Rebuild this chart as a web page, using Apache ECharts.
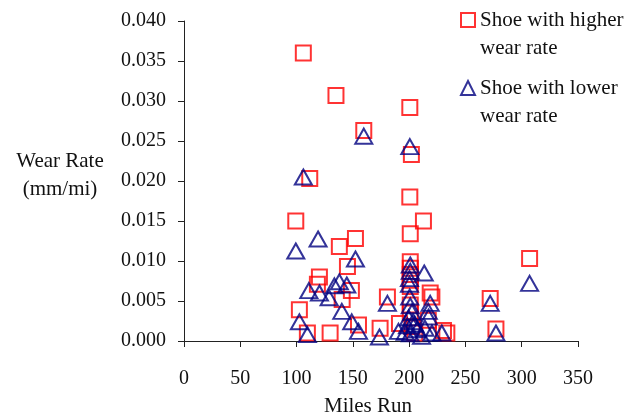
<!DOCTYPE html>
<html>
<head>
<meta charset="utf-8">
<script src="https://cdn.jsdelivr.net/npm/echarts@6/dist/echarts.min.js"></script>
<style>
    html, body { margin: 0; padding: 0; background: #fff; }
    #chart-wear { width: 634px; height: 419px; }
</style>
</head>
<body>
<div id="chart-wear"></div>
<script>
// miles run / wear rate (mm/mi)
var higherMiles = [106, 135, 200.6, 159.7, 202, 111.7, 200.6, 99.3, 212.7, 201, 152.3, 138, 307, 201,
    145.2, 120.3, 118.5, 148.7, 140.5, 102.5, 155, 109.6, 129.8, 180.7, 174.2, 191.4, 272, 277.1, 230.5,
    233.5, 201, 201, 201, 201, 218.7, 220.2, 201, 201, 202.5, 205, 217];
var higherRate = [0.0360, 0.0307, 0.0292, 0.0263, 0.0233, 0.0203, 0.0180, 0.0150, 0.0150, 0.0134, 0.0128, 0.0118, 0.0103, 0.0099,
    0.0093, 0.0080, 0.0071, 0.0063, 0.0052, 0.0039, 0.0020, 0.0010, 0.0010, 0.0055, 0.0016, 0.0022, 0.0053, 0.0015, 0.0013,
    0.0010, 0.0091, 0.0083, 0.0076, 0.0068, 0.0060, 0.0055, 0.0045, 0.0035, 0.0018, 0.0010, 0.0026];

var lowerMiles = [159.7, 200.6, 106, 119.1, 99.3, 152.3, 307, 201, 201, 213.4, 200.3, 200.3, 138, 144.6,
    133.6, 110.9, 120.3, 128.9, 140.2, 102.5, 149, 155, 109.6, 180.7, 218.7, 173.6, 190.5, 229, 217.2, 220.2,
    272, 277.1, 201, 202.5, 199.5, 203.5, 198.5, 207, 201, 211, 196.5, 214, 217, 200.5, 205];
var lowerRate = [0.0256, 0.0243, 0.0205, 0.01275, 0.01125, 0.01025, 0.0072, 0.0095, 0.0087, 0.0085, 0.0078, 0.0071, 0.0074, 0.0070,
    0.0069, 0.0063, 0.0060, 0.0054, 0.0037, 0.0024, 0.0024, 0.0012, 0.0008, 0.0047, 0.0047, 0.0005, 0.0012, 0.0010, 0.0030, 0.0010,
    0.0047, 0.0010, 0.0044, 0.0036, 0.0029, 0.0024, 0.0019, 0.0014, 0.0009, 0.0006, 0.0011, 0.0016, 0.0037, 0.0055, 0.0021];

var seriesNames = ['Shoe with higher\nwear rate', 'Shoe with lower\nwear rate'];

function pairs(xs, ys) {
    var out = [];
    for (var i = 0; i < xs.length; i++) {
        out.push([xs[i], ys[i]]);
    }
    return out;
}

var chartWear = echarts.init(document.getElementById('chart-wear'));
var font = 'Liberation Serif';
var axisColor = '#222';

var option = {
    animation: false,
    backgroundColor: '#fff',
    textStyle: { fontFamily: font },
    grid: {
        left: 184,
        right: 56,
        top: 21,
        bottom: 78,
        containLabel: false,
        outerBoundsMode: 'none'
    },
    legend: {
        orient: 'vertical',
        left: 460,
        top: -22,
        padding: 0,
        itemGap: -16,
        itemWidth: 14,
        itemHeight: 14,
        // blank first line keeps the icon level with the first text line
        formatter: function (name) {
            return '\u00a0\n' + name;
        },
        textStyle: {
            fontFamily: font,
            fontSize: 21,
            color: '#111',
            lineHeight: 28
        },
        data: seriesNames
    },
    xAxis: {
        type: 'value',
        min: 0,
        max: 350,
        interval: 50,
        name: 'Miles Run',
        nameLocation: 'middle',
        nameGap: 55,
        nameTextStyle: { fontFamily: font, fontSize: 21, color: '#111', padding: [0, 26, 0, 0] },
        splitLine: { show: false },
        axisLine: { onZero: false, lineStyle: { color: axisColor, width: 1 } },
        axisTick: { length: 6, lineStyle: { color: axisColor } },
        axisLabel: { margin: 28, fontFamily: font, fontSize: 20, color: '#111' }
    },
    yAxis: {
        type: 'value',
        min: 0,
        max: 0.04,
        interval: 0.005,
        // small empty last line lifts the name a little above the axis middle
        name: '{t|Wear Rate}\n{t|(mm/mi)}\n{s| }',
        nameLocation: 'middle',
        nameRotate: 0,
        nameGap: 124,
        nameTextStyle: {
            fontFamily: font,
            color: '#111',
            align: 'center',
            rich: {
                t: { fontFamily: font, fontSize: 21, color: '#111', lineHeight: 28, align: 'center' },
                s: { fontSize: 1, lineHeight: 12 }
            }
        },
        splitLine: { show: false },
        axisLine: { show: true, lineStyle: { color: axisColor, width: 1 } },
        axisTick: { show: true, length: 6, lineStyle: { color: axisColor } },
        axisLabel: {
            margin: 18,
            fontFamily: font,
            fontSize: 20,
            color: '#111',
            formatter: function (v) {
                return v.toFixed(3);
            }
        }
    },
    series: [
        {
            name: seriesNames[0],
            type: 'scatter',
            symbol: 'rect',
            symbolSize: 15,
            itemStyle: { color: 'transparent', borderColor: '#ff0000', borderWidth: 2 },
            data: pairs(higherMiles, higherRate)
        },
        {
            name: seriesNames[1],
            type: 'scatter',
            symbol: 'triangle',
            symbolSize: [17, 15],
            itemStyle: { color: 'transparent', borderColor: '#000080', borderWidth: 2 },
            data: pairs(lowerMiles, lowerRate)
        }
    ]
};
chartWear.setOption(option);
</script>
</body>
</html>
